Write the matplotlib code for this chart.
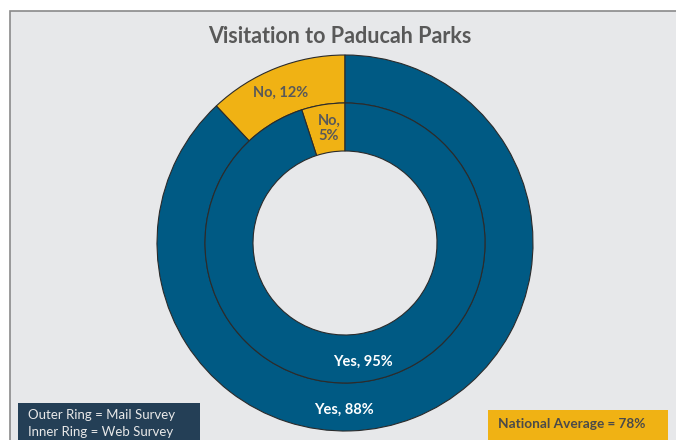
import matplotlib.pyplot as plt
from matplotlib.patches import Rectangle

# data
outer_labels = ["No", "Yes"]
outer_vals = [12, 88]   # mail survey
inner_labels = ["No", "Yes"]
inner_vals = [5, 95]    # web survey
title = "Visitation to Paducah Parks"
legend_lines = ["Outer Ring = Mail Survey", "Inner Ring = Web Survey"]
national_note = "National Average = 78%"

blue = "#005A84"
gold = "#F0B214"
gray_txt = "#595959"
bg = "#E7E8EA"

plt.rcParams['font.family'] = ['Lato', 'DejaVu Sans']

W, H = 676, 440
fig = plt.figure(figsize=(W / 100, H / 100), dpi=100)
ax = fig.add_axes([0, 0, 1, 1])

# chart frame
ax.add_patch(Rectangle((10, -5), W, H - 11 + 5, facecolor=bg, edgecolor="#8A8A8A", lw=1.2, zorder=0))

cx, cy = 345, H - 243
r_out, r_mid, r_in = 188, 140, 92
cols = [gold, blue]

ax.pie(outer_vals, radius=r_out, center=(cx, cy), startangle=90, counterclock=True, colors=cols,
       wedgeprops=dict(width=r_out - r_mid, edgecolor="#2b2b2b", linewidth=0.8), frame=True)
ax.pie(inner_vals, radius=r_mid, center=(cx, cy), startangle=90, counterclock=True, colors=cols,
       wedgeprops=dict(width=r_mid - r_in, edgecolor="#2b2b2b", linewidth=0.8), frame=True)
ax.set_xlim(0, W)
ax.set_ylim(0, H)
ax.set_aspect('auto')
ax.axis('off')

ax.text(340, H - 36, title, ha='center', va='center', fontsize=15.5, fontweight='bold', color=gray_txt)

ax.text(281, H - 93, f"{outer_labels[0]}, {outer_vals[0]}%", ha='center', va='center',
        fontsize=10.5, fontweight='bold', color=gray_txt)
ax.text(329, H - 128, f"{inner_labels[0]},\n{inner_vals[0]}%", ha='center', va='center',
        fontsize=10.5, fontweight='bold', color=gray_txt, linespacing=1.1)
ax.text(363, H - 362, f"{inner_labels[1]}, {inner_vals[1]}%", ha='center', va='center',
        fontsize=10.5, fontweight='bold', color='white')
ax.text(344, H - 410, f"{outer_labels[1]}, {outer_vals[1]}%", ha='center', va='center',
        fontsize=10.5, fontweight='bold', color='white')

# legend boxes
ax.add_patch(Rectangle((18, 0), 182, 37, facecolor="#243F56", edgecolor='none', zorder=3))
ax.text(28, H - 415, legend_lines[0], ha='left', va='center', fontsize=9.5, color="#E8E8E8", zorder=4)
ax.text(28, H - 432, legend_lines[1], ha='left', va='center', fontsize=9.5, color="#E8E8E8", zorder=4)

ax.add_patch(Rectangle((488, 0), 180, 30, facecolor=gold, edgecolor='none', zorder=3))
ax.text(498, H - 424, national_note, ha='left', va='center', fontsize=9.8, fontweight='bold',
        color="#4A4A4A", zorder=4)

fig.savefig("out.png", dpi=100, facecolor='white')
